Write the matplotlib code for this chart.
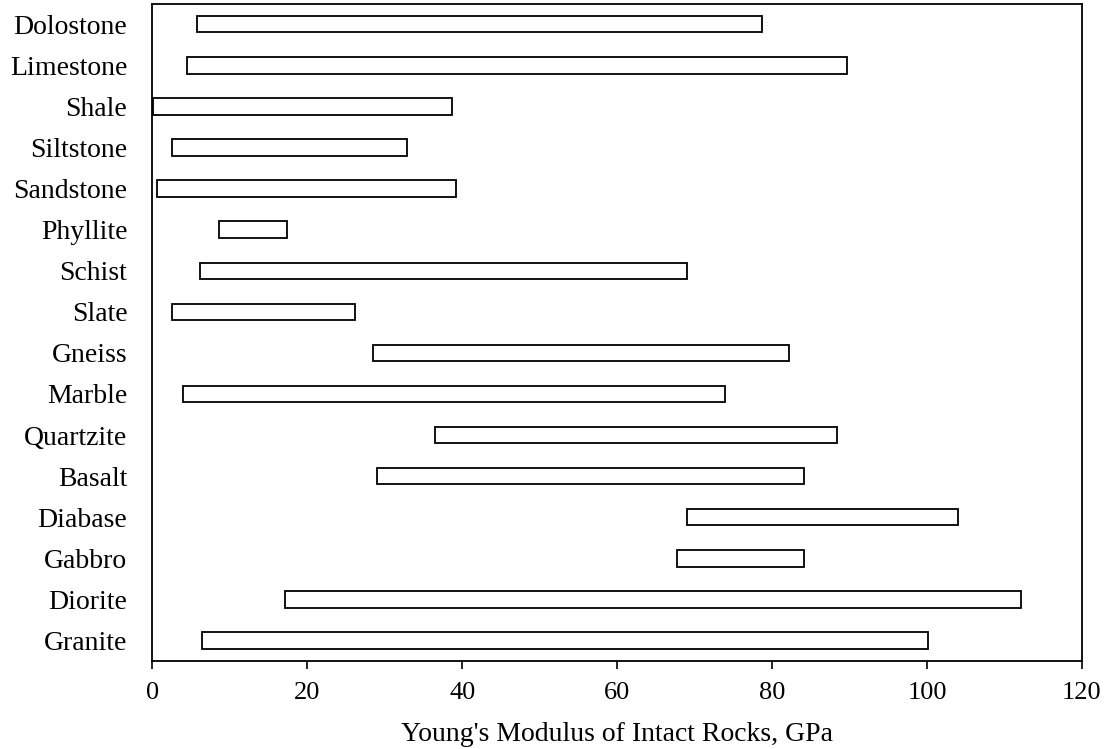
import matplotlib
matplotlib.use('Agg')
import matplotlib.pyplot as plt

# rock types, top to bottom as in the chart
rocks = ['Dolostone', 'Limestone', 'Shale', 'Siltstone', 'Sandstone', 'Phyllite',
         'Schist', 'Slate', 'Gneiss', 'Marble', 'Quartzite', 'Basalt', 'Diabase',
         'Gabbro', 'Diorite', 'Granite']
# range of Young's modulus, GPa
e_min = [5.8, 4.5, 0.1, 2.6, 0.6, 8.6, 6.1, 2.5, 28.5, 4.0, 36.5, 29.0, 69.0, 67.7, 17.1, 6.4]
e_max = [78.7, 89.7, 38.7, 32.9, 39.2, 17.4, 69.0, 26.2, 82.2, 73.9, 88.4, 84.1, 104.0, 84.1, 112.1, 100.1]

plt.rcParams['font.family'] = ['Liberation Serif', 'DejaVu Serif']

fig, ax = plt.subplots(figsize=(11.12, 7.49), dpi=100)
fig.subplots_adjust(left=0.137, right=0.973, top=0.995, bottom=0.1175)

widths = [b - a for a, b in zip(e_min, e_max)]
ax.barh(rocks, widths, left=e_min, height=0.4, color='white',
        edgecolor='black', linewidth=1.3)

ax.set_ylim(len(rocks) - 0.5, -0.5)
ax.set_xlim(0, 120)
ax.set_xticks(range(0, 121, 20))
ax.tick_params(axis='x', direction='out', length=6, width=1.2, labelsize=19, pad=9)
ax.tick_params(axis='y', length=0, labelsize=20, pad=18)
for s in ax.spines.values():
    s.set_linewidth(1.3)

ax.set_xlabel("Young's Modulus of Intact Rocks, GPa", fontsize=20, labelpad=13)

plt.savefig('out.png')
